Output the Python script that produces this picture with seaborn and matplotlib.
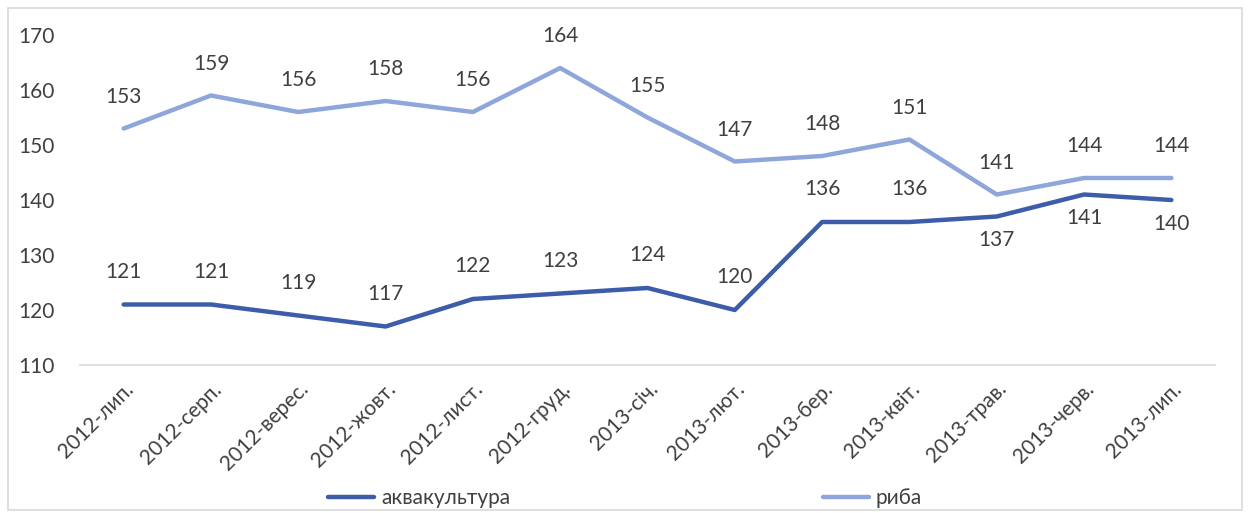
import matplotlib
matplotlib.use("Agg")
import matplotlib.pyplot as plt
import seaborn as sns
import pandas as pd
from matplotlib.patches import Rectangle
from matplotlib.lines import Line2D

months = ["2012-лип.", "2012-серп.", "2012-верес.", "2012-жовт.", "2012-лист.", "2012-груд.",
          "2013-січ.", "2013-лют.", "2013-бер.", "2013-квіт.", "2013-трав.", "2013-черв.", "2013-лип."]
aquaculture = [121, 121, 119, 117, 122, 123, 124, 120, 136, 136, 137, 141, 140]
fish = [153, 159, 156, 158, 156, 164, 155, 147, 148, 151, 141, 144, 144]
aqua_label_below = [False]*10 + [True, True, True]

sns.set_theme(style="white")
plt.rcParams['font.family'] = ['Lato', 'DejaVu Sans']

dark = "#3D5DAA"
light = "#8EA6DA"
txt = "#404040"
fs = 15

fig = plt.figure(figsize=(12.48, 5.13), dpi=100)
ax = fig.add_axes([80/1248, 1-365/513, (1215-80)/1248, (365-35)/513])

df = pd.DataFrame({"x": list(range(len(months))) * 2,
                   "v": aquaculture + fish,
                   "s": ["аквакультура"]*len(months) + ["риба"]*len(months)})
sns.lineplot(data=df, x="x", y="v", hue="s", palette=[dark, light], linewidth=3.2,
             ax=ax, legend=False, solid_capstyle="round", solid_joinstyle="round")

for i, v in enumerate(fish):
    ax.annotate(str(v), (i, v), xytext=(0, 23), textcoords="offset points",
                ha="center", va="center", fontsize=fs, color=txt)
for i, (v, below) in enumerate(zip(aquaculture, aqua_label_below)):
    off = -17 if below else 23.5
    ax.annotate(str(v), (i, v), xytext=(0, off), textcoords="offset points",
                ha="center", va="center", fontsize=fs, color=txt)

ax.set_xlim(-0.5, len(months) - 0.5)
ax.set_ylim(110, 170)
ax.set_yticks(range(110, 171, 10))
ax.set_xticks(range(len(months)))
ax.set_xticklabels(months, rotation=45, ha="right", va="top", rotation_mode="anchor")
ax.tick_params(axis="y", labelsize=fs, labelcolor=txt, length=0, pad=18)
ax.tick_params(axis="x", labelsize=fs, labelcolor=txt, length=0, pad=10)
ax.set_xlabel("")
ax.set_ylabel("")
for side in ["top", "right", "left"]:
    ax.spines[side].set_visible(False)
ax.spines["bottom"].set_color("#D9D9D9")
ax.spines["bottom"].set_linewidth(1.2)
ax.patch.set_alpha(0)

handles = [Line2D([0], [0], color=dark, lw=3.2), Line2D([0], [0], color=light, lw=3.2)]
leg = fig.legend(handles, ["аквакультура", "риба"], loc="center left",
                 bbox_to_anchor=(328/1248, 1-498/513),
                 ncol=2, frameon=False, fontsize=fs, columnspacing=15, handlelength=2.2,
                 handletextpad=0.35, borderpad=0, borderaxespad=0)
for t in leg.get_texts():
    t.set_color(txt)

fig.patches.append(Rectangle((8/1248, 1-510/513), (1242-8)/1248, (510-8)/513,
                             transform=fig.transFigure, fill=False, edgecolor="#D9D9D9", lw=1.2))

fig.savefig("out.png", dpi=100)
